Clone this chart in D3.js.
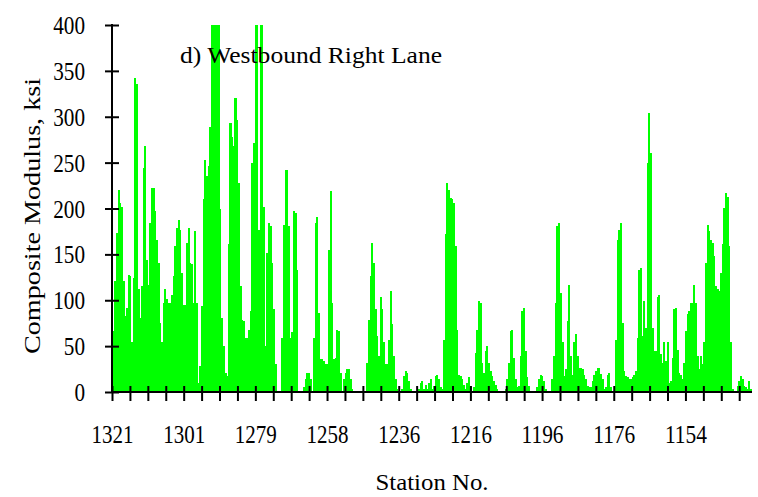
<!DOCTYPE html>
<html>
<head>
<meta charset="utf-8">
<script src="https://cdn.jsdelivr.net/npm/d3@7"></script>
<style>
    body { margin: 0; background: #fff; }
</style>
</head>
<body>
<div id="chart"></div>
<script>

// Composite modulus (ksi) per measurement point, read left to right (station 1321 -> ~1140)
var modulus = [
    66, 121, 173, 220, 206, 202, 121, 83, 92, 128,
    126, 54, 124, 342, 336, 112, 81, 115, 244, 268,
    144, 117, 184, 222, 222, 197, 166, 141, 75, 54,
    97, 112, 101, 97, 97, 106, 126, 159, 179, 188,
    177, 130, 95, 95, 162, 179, 141, 139, 97, 175,
    97, 10, 28, 94, 210, 253, 235, 246, 289, 400,
    400, 400, 400, 400, 199, 81, 50, 21, 17, 161,
    293, 278, 268, 320, 297, 228, 115, 79, 77, 59,
    59, 68, 88, 250, 271, 400, 400, 177, 400, 400,
    202, 50, 152, 184, 181, 141, 90, 30, 0, 0,
    0, 59, 182, 242, 242, 181, 59, 65, 197, 195,
    133, 0, 0, 0, 5, 14, 21, 21, 14, 1,
    59, 184, 191, 86, 36, 36, 34, 30, 30, 155,
    219, 97, 36, 37, 68, 66, 21, 1, 14, 21,
    25, 25, 14, 3, 0, 0, 0, 0, 0, 0,
    0, 0, 32, 79, 126, 162, 141, 90, 61, 39,
    104, 90, 54, 30, 30, 57, 110, 74, 39, 14,
    3, 0, 0, 3, 17, 23, 21, 12, 3, 0,
    0, 0, 0, 3, 10, 12, 3, 8, 3, 10,
    14, 3, 7, 17, 19, 14, 5, 3, 57, 172,
    228, 220,
    211, 210, 206, 159, 68, 19, 17, 14, 8, 3,
    10, 16, 7, 0, 5, 43, 68, 99, 97, 32,
    21, 45, 50, 32, 23, 17, 12, 8, 3, 0,
    0, 0, 0, 3, 14, 32, 66, 68, 37, 14,
    5, 7, 39, 88, 92, 45, 16, 7, 0, 0,
    0, 0, 5, 14, 19, 17, 12, 3, 0, 0,
    0, 14, 39, 97, 181, 184, 108, 54, 17, 25,
    77, 117, 39, 19, 54, 63, 39, 26, 26, 25,
    19, 14, 7, 5, 5, 12, 19, 23, 26, 26,
    20, 14, 3, 5, 19, 21, 5, 0, 0, 57,
    166, 177, 184, 75, 23, 17, 16, 14, 14, 16,
    19, 23, 59, 133, 135, 61, 99, 70, 250, 304,
    260, 70, 45, 45, 104, 106, 41, 32, 54, 34,
    54, 10, 12, 37, 90, 92, 46, 21, 19, 14,
    32, 66, 85, 88, 97, 97, 117, 97, 39, 25,
    39, 30, 54, 141, 182, 175, 166, 162, 148, 115,
    112, 110, 130, 161, 201, 217, 213, 159, 54, 3,
    0, 0, 7, 12, 17, 14, 7, 5, 3, 12,
    3
];

// Station labels, one on every 4th tick mark
var stationLabels = ["1321", "1301", "1279", "1258", "1236", "1216", "1196", "1176", "1154"];

// Y axis ticks
var yTicks = [0, 50, 100, 150, 200, 250, 300, 350, 400];

var width = 758;
var height = 497;
var plot = { left: 112, right: 752, top: 25, bottom: 392 };
var tickCount = 36;          // tick marks along the x axis
var tickStep = 17.92;        // px between tick marks
var serif = "'Liberation Serif', 'DejaVu Serif', 'Times New Roman', serif";

var svg = d3.select("#chart").append("svg")
    .attr("width", width)
    .attr("height", height);

// Scales
var y = d3.scaleLinear()
    .domain([0, 400])
    .range([plot.bottom, plot.top])
    .clamp(true);

var x = d3.scaleBand()
    .domain(d3.range(modulus.length))
    .range([plot.left + 0.7, plot.right - 0.3])
    .padding(0);

var xTick = d3.scaleLinear()
    .domain([0, tickCount - 1])
    .range([plot.left, plot.left + tickStep * (tickCount - 1)]);

// Bars
svg.append("g")
    .selectAll("rect")
    .data(modulus)
    .enter()
    .append("rect")
    .attr("x", function (d, i) { return x(i); })
    .attr("y", function (d) { return y(d); })
    .attr("width", x.bandwidth() + 0.35)
    .attr("height", function (d) { return plot.bottom - y(d); })
    .attr("fill", "#00ff00")
    .attr("shape-rendering", "crispEdges");

// Y axis
var yAxis = svg.append("g")
    .attr("transform", "translate(" + plot.left + ",0)")
    .call(d3.axisLeft(y).tickValues(yTicks).tickSize(7).tickPadding(20));

yAxis.select(".domain").remove();
yAxis.selectAll(".tick line")
    .attr("x1", 7)
    .attr("x2", -7)
    .attr("stroke", "#000")
    .attr("stroke-width", 2);
yAxis.selectAll(".tick text")
    .attr("dy", "0.33em")
    .style("font-family", serif)
    .style("font-size", "26px")
    .attr("textLength", function (d) { return String(d).length * 10.6; })
    .attr("lengthAdjust", "spacingAndGlyphs");

svg.append("line")
    .attr("x1", plot.left).attr("x2", plot.left)
    .attr("y1", plot.top - 1).attr("y2", plot.bottom + 1)
    .attr("stroke", "#000")
    .attr("stroke-width", 2);

// X axis
var xAxis = svg.append("g")
    .attr("transform", "translate(0," + plot.bottom + ")")
    .call(d3.axisBottom(xTick)
        .tickValues(d3.range(tickCount))
        .tickSize(9)
        .tickFormat(function (d) { return d % 4 === 0 ? stationLabels[d / 4] : ""; }));

xAxis.select(".domain").remove();
xAxis.selectAll(".tick line")
    .attr("y1", -6)
    .attr("y2", 9)
    .attr("stroke", "#000")
    .attr("stroke-width", 2);
xAxis.selectAll(".tick text")
    .attr("y", 51)
    .attr("dy", 0)
    .style("font-family", serif)
    .style("font-size", "26px")
    .attr("textLength", function (d) { return d % 4 === 0 ? 42 : null; })
    .attr("lengthAdjust", "spacingAndGlyphs");

svg.append("line")
    .attr("x1", plot.left - 1).attr("x2", plot.right)
    .attr("y1", plot.bottom).attr("y2", plot.bottom)
    .attr("stroke", "#000")
    .attr("stroke-width", 2);

// Title inside the plot
svg.append("text")
    .attr("x", 180)
    .attr("y", 63)
    .style("font-family", serif)
    .style("font-size", "24px")
    .attr("textLength", 262)
    .attr("lengthAdjust", "spacingAndGlyphs")
    .text("d) Westbound Right Lane");

// Axis titles
svg.append("text")
    .attr("transform", "translate(40,216) rotate(-90)")
    .attr("text-anchor", "middle")
    .style("font-family", serif)
    .style("font-size", "24px")
    .attr("textLength", 276)
    .attr("lengthAdjust", "spacingAndGlyphs")
    .text("Composite Modulus, ksi");

svg.append("text")
    .attr("x", 432)
    .attr("y", 490)
    .attr("text-anchor", "middle")
    .style("font-family", serif)
    .style("font-size", "24px")
    .attr("textLength", 113)
    .attr("lengthAdjust", "spacingAndGlyphs")
    .text("Station No.");

</script>
</body>
</html>
